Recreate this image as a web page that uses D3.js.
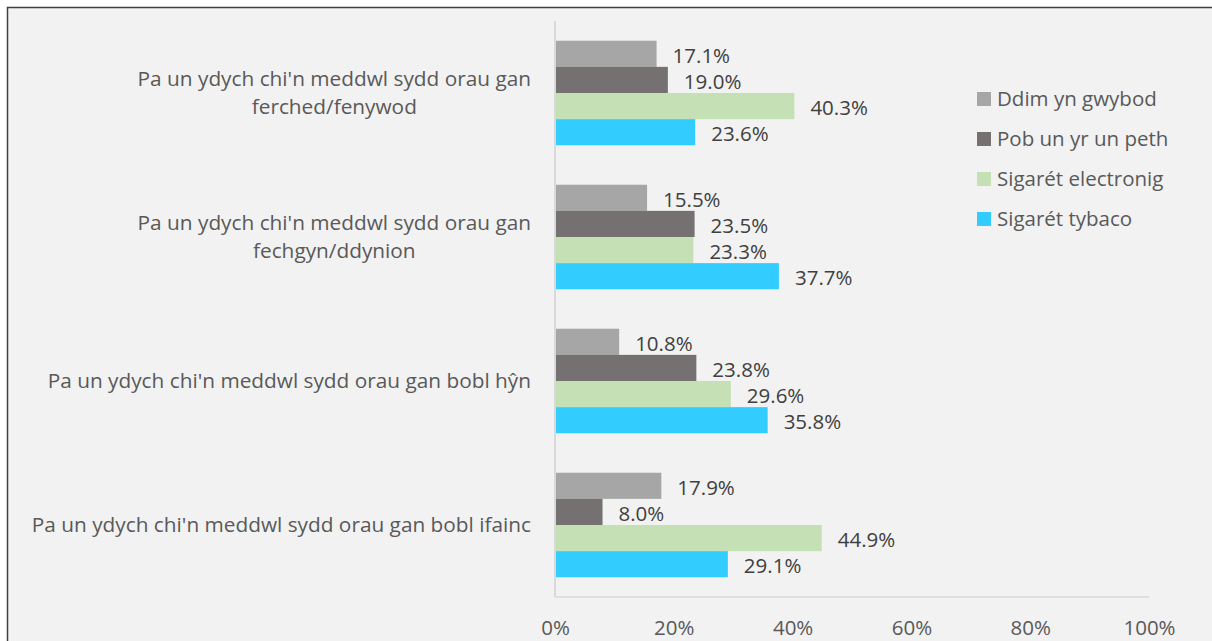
<!DOCTYPE html>
<html>
<head>
<meta charset="utf-8">
<script src="https://cdn.jsdelivr.net/npm/d3@7"></script>
<style>
  html, body { margin: 0; padding: 0; background: #ffffff; }
  svg { display: block; }
  text { font-family: "Open Sans", Lato, sans-serif; }
</style>
</head>
<body>
<svg id="chart" width="1212" height="641"></svg>
<script>
// ---- data ----
const categories = [
  "Pa un ydych chi'n meddwl sydd orau gan ferched/fenywod",
  "Pa un ydych chi'n meddwl sydd orau gan fechgyn/ddynion",
  "Pa un ydych chi'n meddwl sydd orau gan bobl hŷn",
  "Pa un ydych chi'n meddwl sydd orau gan bobl ifainc"
];
const categoryLines = [
  ["Pa un ydych chi'n meddwl sydd orau gan", "ferched/fenywod"],
  ["Pa un ydych chi'n meddwl sydd orau gan", "fechgyn/ddynion"],
  ["Pa un ydych chi'n meddwl sydd orau gan bobl hŷn"],
  ["Pa un ydych chi'n meddwl sydd orau gan bobl ifainc"]
];
const seriesNames = ["Ddim yn gwybod", "Pob un yr un peth", "Sigarét electronig", "Sigarét tybaco"];
const ddimYnGwybod   = [17.1, 15.5, 10.8, 17.9];
const pobUnYrUnPeth  = [19.0, 23.5, 23.8, 8.0];
const sigaretElectronig = [40.3, 23.3, 29.6, 44.9];
const sigaretTybaco  = [23.6, 37.7, 35.8, 29.1];
const tickValues = [0, 20, 40, 60, 80, 100];
const seriesColors = ["#a6a6a6", "#767171", "#c5e0b4", "#33ccff"];

const seriesValues = [ddimYnGwybod, pobUnYrUnPeth, sigaretElectronig, sigaretTybaco];

// ---- drawing ----
const svg = d3.select("#chart");
const FS = 20.5;
const CAT_FS = 20.8;

// chart area background + border
svg.append("rect")
  .attr("x", 7.5).attr("y", 7.5)
  .attr("width", 1240).attr("height", 680)
  .attr("fill", "#f2f2f2")
  .attr("stroke", "#404040").attr("stroke-width", 1.5);

const x = d3.scaleLinear().domain([0, 100]).range([555, 1149]);
const y = d3.scaleBand().domain(categories).range([21, 597])
  .paddingInner(0.274).paddingOuter(0.137);
const ySub = d3.scaleBand().domain(seriesNames).range([0, y.bandwidth()]);

// bars
const groups = svg.append("g").selectAll("g")
  .data(categories)
  .join("g")
  .attr("transform", d => `translate(0,${y(d)})`);

groups.each(function(cat, ci) {
  const g = d3.select(this);
  seriesNames.forEach((s, si) => {
    const v = seriesValues[si][ci];
    g.append("rect")
      .attr("x", x(0))
      .attr("y", ySub(s))
      .attr("width", x(v) - x(0))
      .attr("height", ySub.bandwidth())
      .attr("fill", seriesColors[si]);
    g.append("text")
      .attr("x", x(v) + 16)
      .attr("y", ySub(s) + ySub.bandwidth() / 2 + 9)
      .attr("fill", "#404040")
      .attr("font-size", FS)
      .text(v.toFixed(1) + "%");
  });
});

// axis lines
svg.append("line")
  .attr("x1", x(0)).attr("x2", x(0))
  .attr("y1", 21).attr("y2", 597)
  .attr("stroke", "#d9d9d9").attr("stroke-width", 2);
svg.append("line")
  .attr("x1", x(0)).attr("x2", x(100))
  .attr("y1", 597).attr("y2", 597)
  .attr("stroke", "#d9d9d9").attr("stroke-width", 1.5);

// x axis tick labels
const xAxis = d3.axisBottom(x).tickValues(tickValues).tickSize(0).tickPadding(0)
  .tickFormat(d => d + "%");
const xg = svg.append("g").attr("transform", "translate(0,635)").call(xAxis);
xg.select(".domain").remove();
xg.selectAll("text")
  .attr("font-family", "'Open Sans', Lato, sans-serif")
  .attr("font-size", FS)
  .attr("fill", "#595959")
  .attr("dy", "0");

// category labels
svg.append("g").selectAll("g")
  .data(categories)
  .join("g")
  .each(function(cat, ci) {
    const lines = categoryLines[ci];
    const g = d3.select(this);
    const cy = y(cat) + y.bandwidth() / 2;
    const lh = 28;
    const t = g.append("text")
      .attr("fill", "#595959")
      .attr("font-size", CAT_FS);
    lines.forEach((ln, li) => {
      t.append("tspan")
        .attr("x", 0)
        .attr("y", cy + (li - (lines.length - 1) / 2) * lh + 7)
        .attr("text-anchor", "middle")
        .text(ln);
    });
    const w = t.node().getBBox().width;
    t.selectAll("tspan").attr("x", 531 - w / 2);
  });

// legend
const legend = svg.append("g").selectAll("g")
  .data(seriesNames)
  .join("g")
  .attr("transform", (d, i) => `translate(977,${99 + i * 40})`);
legend.append("rect")
  .attr("x", 0).attr("y", -7)
  .attr("width", 14).attr("height", 14)
  .attr("fill", (d, i) => seriesColors[i]);
legend.append("text")
  .attr("x", 20).attr("y", 7)
  .attr("fill", "#595959")
  .attr("font-size", FS)
  .text(d => d);
</script>
</body>
</html>
